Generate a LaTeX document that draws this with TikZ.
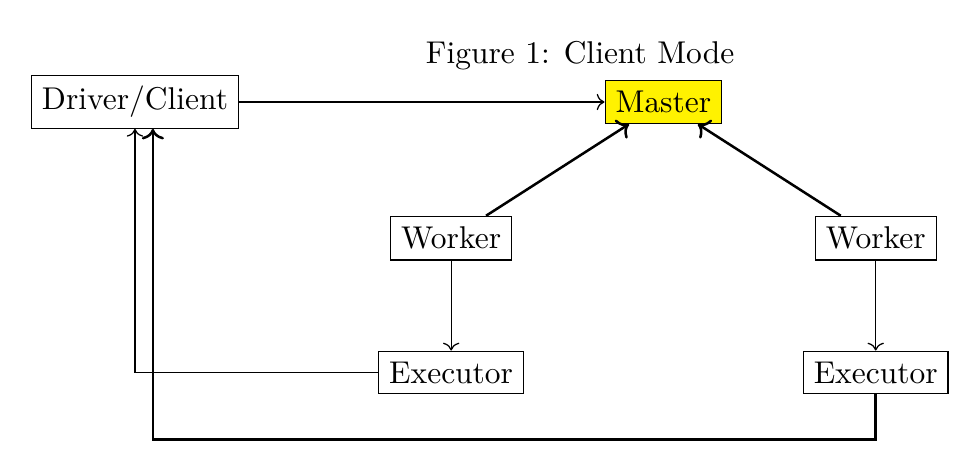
\documentclass[tikz,border=0pt]{standalone}
\usepackage{tikz}
\usetikzlibrary{arrows,arrows.meta,positioning,calc}

\begin{document}
\begin{tikzpicture}[
      on grid,node distance = 1.5cm and 2.37cm,
      box/.style = {rectangle,draw,text centered},
      mastbox/.style = {box,fill = yellow},
      arrow/.style = {->},
      bigarrow/.style = {->,thick}
    ]
      \useasboundingbox (-1.507,-3.951) rectangle (9.133,1.139);

      \node (driver)[box]{Driver/Client};
      \node (master)[mastbox,right = 5.9cm of driver]{Master};
      \node (title)[above left = 0.52cm and 0.93cm of master]{Figure 1: Client Mode};
      \node (worker1)[box,below left = 1.52cm and 2.37cm of master]{Worker};
      \node (worker2)[box,below right = 1.52cm and 2.37cm of master]{Worker};
      \node (executor1)[box,below = of worker1]{Executor};
      \node (executor2)[box,below = of worker2]{Executor};

      \draw [arrow] (driver) -- (master);
      \draw [bigarrow] (worker1) -- (master);
      \draw [bigarrow] (worker2) -- (master);
      \draw [arrow] (worker1) -- (executor1);
      \draw [arrow] (worker2) -- (executor2);
      \draw [arrow] (executor1) -| (driver);
      \draw [bigarrow] (executor2.south) -- ++(0,-0.5) -| ([xshift=2mm]driver.south);
    \end{tikzpicture}
\end{document}
